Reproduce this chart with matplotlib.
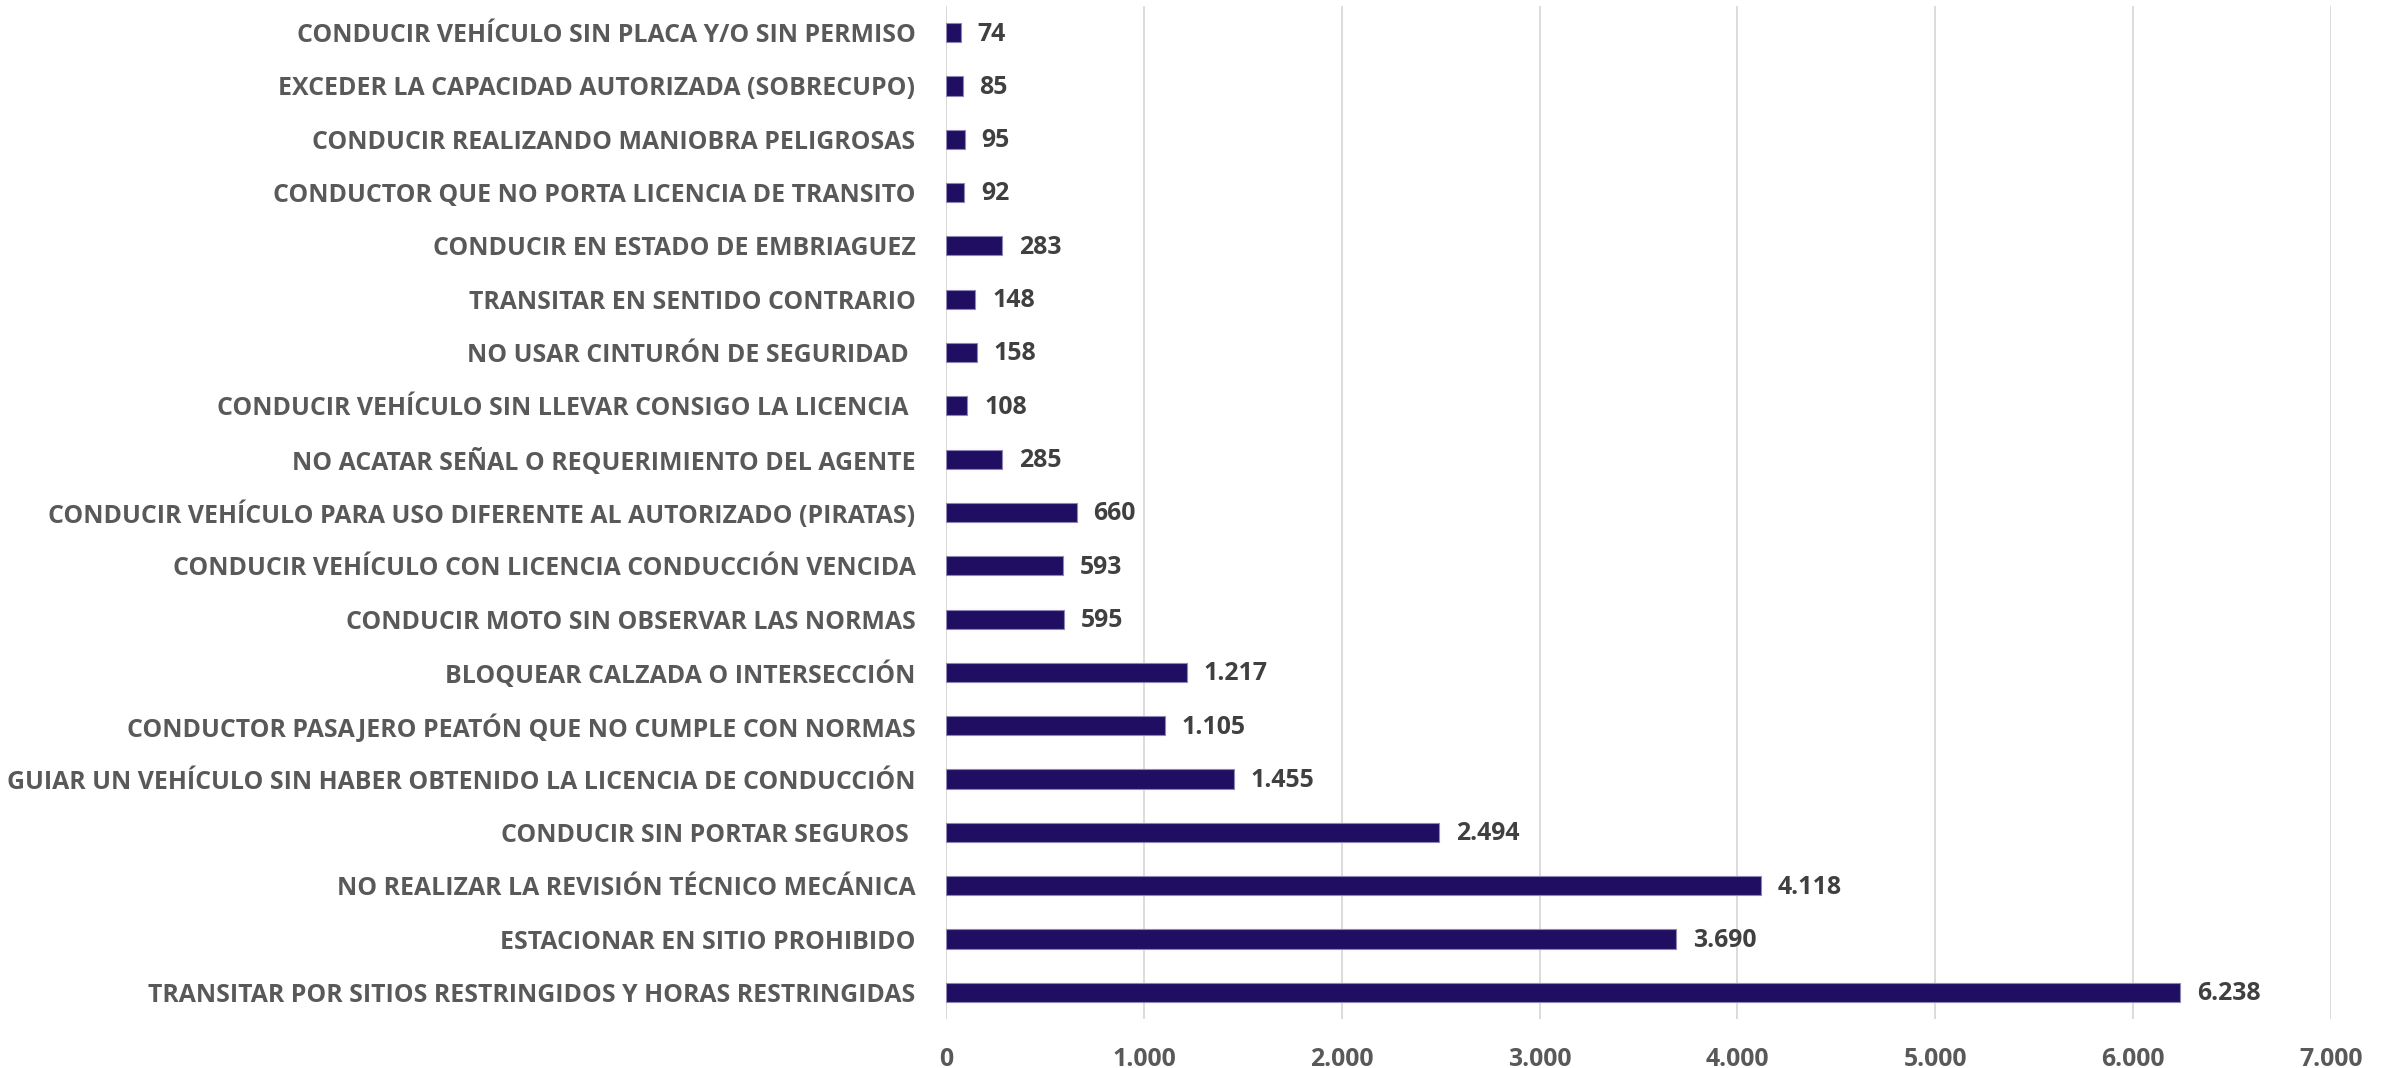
import matplotlib
matplotlib.use("Agg")
import matplotlib.pyplot as plt

categories = [
    "TRANSITAR POR SITIOS RESTRINGIDOS Y HORAS RESTRINGIDAS",
    "ESTACIONAR EN SITIO PROHIBIDO",
    "NO REALIZAR LA REVISIÓN TÉCNICO MECÁNICA",
    "CONDUCIR SIN PORTAR SEGUROS ",
    "GUIAR UN VEHÍCULO SIN HABER OBTENIDO LA LICENCIA DE CONDUCCIÓN",
    "CONDUCTOR PASAJERO PEATÓN QUE NO CUMPLE CON NORMAS",
    "BLOQUEAR CALZADA O INTERSECCIÓN",
    "CONDUCIR MOTO SIN OBSERVAR LAS NORMAS",
    "CONDUCIR VEHÍCULO CON LICENCIA CONDUCCIÓN VENCIDA",
    "CONDUCIR VEHÍCULO PARA USO DIFERENTE AL AUTORIZADO (PIRATAS)",
    "NO ACATAR SEÑAL O REQUERIMIENTO DEL AGENTE",
    "CONDUCIR VEHÍCULO SIN LLEVAR CONSIGO LA LICENCIA ",
    "NO USAR CINTURÓN DE SEGURIDAD ",
    "TRANSITAR EN SENTIDO CONTRARIO",
    "CONDUCIR EN ESTADO DE EMBRIAGUEZ",
    "CONDUCTOR QUE NO PORTA LICENCIA DE TRANSITO",
    "CONDUCIR REALIZANDO MANIOBRA PELIGROSAS",
    "EXCEDER LA CAPACIDAD AUTORIZADA (SOBRECUPO)",
    "CONDUCIR VEHÍCULO SIN PLACA Y/O SIN PERMISO",
]
values = [6238, 3690, 4118, 2494, 1455, 1105, 1217, 595, 593, 660,
          285, 108, 158, 148, 283, 92, 95, 85, 74]
xticks = [0, 1000, 2000, 3000, 4000, 5000, 6000, 7000]

def fmt(v):
    return f"{v:,}".replace(",", ".")

plt.rcParams['font.family'] = ["Open Sans", "DejaVu Sans"]
FS = 17.9

fig = plt.figure(figsize=(23.92, 10.68), dpi=100)
ax = fig.add_axes([0.3955, 0.0459, 0.579, 0.9485])

y = list(range(len(categories)))
ax.barh(y, values, height=0.36, color="#200E63", edgecolor="#8E86B5", linewidth=0.8, zorder=3)
ax.set_xlim(0, 7000)
ax.set_ylim(-0.5, len(categories) - 0.5)
ax.set_xticks(xticks)
ax.set_xticklabels([fmt(t) for t in xticks])
ax.set_yticks(y)
ax.set_yticklabels(categories)
for lab in ax.get_yticklabels() + ax.get_xticklabels():
    lab.set_fontweight("bold")
    lab.set_color("#595959")
    lab.set_fontsize(FS)

ax.tick_params(axis="y", length=0, pad=22)
ax.tick_params(axis="x", length=0, pad=20)
ax.grid(axis="x", color="#D9D9D9", linewidth=1.3, zorder=0)
for s in ax.spines.values():
    s.set_visible(False)
ax.axvline(0, color="#D9D9D9", linewidth=1.3, zorder=1)

for yi, v in zip(y, values):
    ax.annotate(fmt(v), (v, yi), xytext=(12, -1), textcoords="offset points",
                va="center", ha="left", fontsize=FS, fontweight="bold", color="#404040")

fig.savefig("out.png", dpi=100)
